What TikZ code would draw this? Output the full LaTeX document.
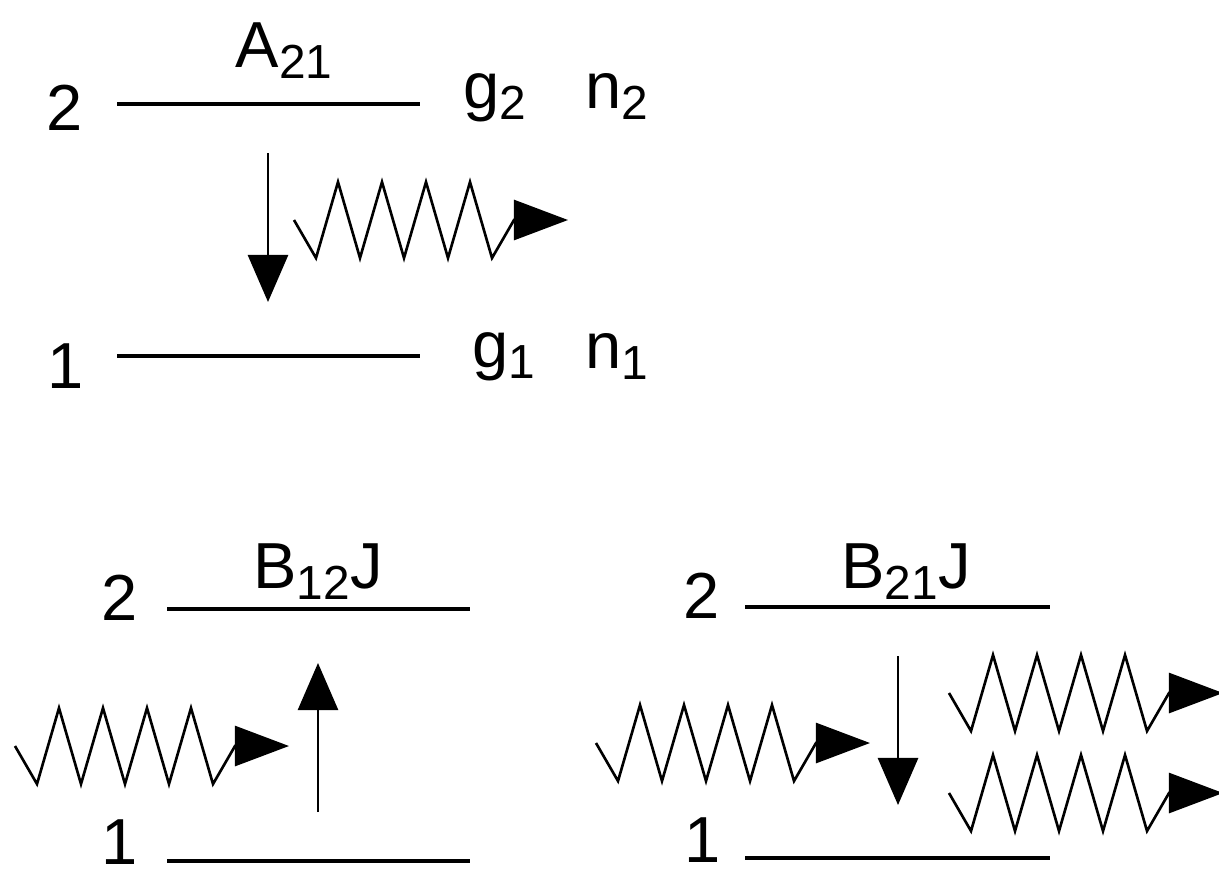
\documentclass[tikz,border=0pt]{standalone}
\usepackage{fontspec}
\setmainfont{Liberation Sans}
\usetikzlibrary{arrows.meta}

\newcommand{\lowsub}[1]{\raisebox{-3.2pt}{\fontsize{13.6}{15}\selectfont #1}}
\newcommand{\photonpath}{-- ++(22,38) \foreach \k in {1,...,4}{-- ++(22,-76) -- ++(22,76)} -- ++(22,-38) -- ++(54,0)}

\begin{document}
\begin{tikzpicture}[
x=0.01cm, y=-0.01cm,
font=\fontsize{18.5}{22}\selectfont,
lbl/.style={inner sep=0pt, anchor=base},
side/.style={inner sep=0pt, anchor=base west},
level/.style={line width=0.9pt},
trans/.style={-{Triangle[length=0.47cm,width=0.40cm]}, line width=0.75pt},
photon/.style={-{Triangle[length=0.54cm,width=0.40cm]}, line width=0.75pt}
]
\useasboundingbox (0,0) rectangle (1219,878);

% spontaneous emission
\node[lbl] (a-up) at (65,130) {2};
\node[lbl] (a-lo) at (66,388) {1};
\draw[level] (117,104) -- (420,104);
\draw[level] (117,356) -- (420,356);
\node[lbl] (a-coef) at (284,67) {A\lowsub{21}};
\node[side] (g-up) at (463,108) {g\lowsub{2}};
\node[side] (n-up) at (585,108) {n\lowsub{2}};
\node[side] (g-lo) at (472,367) {g\lowsub{1}};
\node[side] (n-lo) at (585,368) {n\lowsub{1}};
\coordinate (a-from) at (268,153);
\coordinate (a-to) at (268,302);
\draw[trans] (a-from) -- (a-to);
\coordinate (a-out) at (294,220);
\draw[photon] (a-out) \photonpath;

% absorption
\node[lbl] (b-up) at (120,620) {2};
\node[lbl] (b-lo) at (120,864) {1};
\draw[level] (167,609) -- (470,609);
\draw[level] (167,861) -- (470,861);
\node[lbl] (b-coef) at (318,588) {B\lowsub{12}J};
\coordinate (b-from) at (318,812);
\coordinate (b-to) at (318,663);
\draw[trans] (b-from) -- (b-to);
\coordinate (b-in) at (15,746);
\draw[photon] (b-in) \photonpath;

% stimulated emission
\node[lbl] (c-up) at (702,618) {2};
\node[lbl] (c-lo) at (703,862) {1};
\draw[level] (745,607) -- (1050,607);
\draw[level] (745,858) -- (1050,858);
\node[lbl] (c-coef) at (906,588) {B\lowsub{21}J};
\coordinate (c-from) at (898,656);
\coordinate (c-to) at (898,805);
\draw[trans] (c-from) -- (c-to);
\coordinate (c-in) at (596,743);
\draw[photon] (c-in) \photonpath;
\coordinate (c-out1) at (949,693);
\coordinate (c-out2) at (949,793);
\draw[photon] (c-out1) \photonpath;
\draw[photon] (c-out2) \photonpath;
\end{tikzpicture}
\end{document}
